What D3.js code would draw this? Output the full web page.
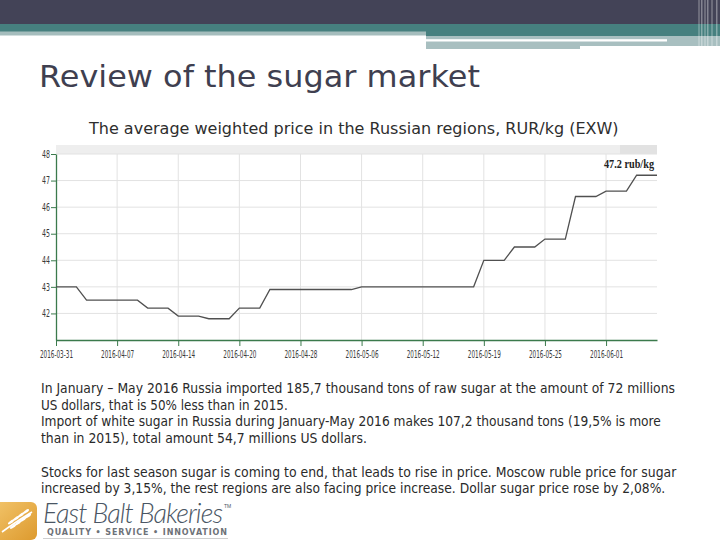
<!DOCTYPE html>
<html><head><meta charset="utf-8">
<script src="https://cdn.jsdelivr.net/npm/d3@7"></script>
<style>html,body{margin:0;padding:0;background:#fff;}svg{display:block}</style>
</head><body>
<svg id="c" width="720" height="540"></svg>
<script>
// ---- data ----
const prices = [
  43.0,43.0,43.0,
  42.5,42.5,42.5,42.5,42.5,42.5,
  42.2,42.2,42.2,
  41.9,41.9,41.9,
  41.8,41.8,41.8,
  42.2,42.2,42.2,
  42.9,42.9,42.9,42.9,42.9,42.9,42.9,42.9,42.9,
  43.0,43.0,43.0,43.0,43.0,43.0,43.0,43.0,43.0,43.0,43.0,43.0,
  44.0,44.0,44.0,
  44.5,44.5,44.5,
  44.8,44.8,44.8,
  46.4,46.4,46.4,
  46.6,46.6,46.6,
  47.2,47.2,47.2
];
const dateLabels = ["2016-03-31","2016-04-07","2016-04-14","2016-04-20","2016-04-28",
                    "2016-05-06","2016-05-12","2016-05-19","2016-05-25","2016-06-01"];
const pointsPerLabel = 6;
const yTicks = [42,43,44,45,46,47,48];
const yDomain = [41,48];
const lastLabel = "47.2 rub/kg";
const title = "Review of the sugar market";
const subtitle = "The average weighted price in the Russian regions, RUR/kg (EXW)";
const noteLines = [
  "In January \u2013 May 2016 Russia imported 185,7 thousand tons of raw sugar at the amount of 72 millions",
  "US dollars, that is 50% less than in 2015.",
  "Import of white sugar in Russia during January-May 2016 makes 107,2 thousand tons (19,5% is more",
  "than in 2015), total amount 54,7 millions US dollars.",
  "",
  "Stocks for last season sugar is coming to end, that leads to rise in price. Moscow ruble price for sugar",
  "increased by 3,15%, the rest regions are also facing price increase. Dollar sugar price rose by 2,08%."
];
const noteWidths = [635, 247, 621, 326, 0, 636, 625];

// ---- drawing ----
const svg = d3.select("#c");
const mainFont = "'DejaVu Sans', Verdana, sans-serif";

// squeeze a text horizontally to a target width (anchored at x0,y0, start)
function fitText(sel, x0, y0, width){
  const w = sel.node().getComputedTextLength();
  const s = w > 0 ? width / w : 1;
  sel.attr("x",0).attr("y",0).attr("transform",`translate(${x0},${y0}) scale(${s},1)`);
}

// header decoration
const hdr = svg.append("g");
hdr.append("rect").attr("x",0).attr("y",0).attr("width",720).attr("height",24).attr("fill","#434357");
hdr.append("rect").attr("x",0).attr("y",24).attr("width",426).attr("height",8).attr("fill","#46807f");
hdr.append("rect").attr("x",0).attr("y",31.5).attr("width",426).attr("height",4).attr("fill","#a5bdbd");
hdr.append("rect").attr("x",426).attr("y",24).attr("width",294).attr("height",12).attr("fill","#46807f");
hdr.append("rect").attr("x",426).attr("y",36).attr("width",294).attr("height",10).attr("fill","#a8bfc0");
hdr.append("rect").attr("x",426).attr("y",46).attr("width",154).attr("height",3).attr("fill","#a8bfc0");
hdr.append("rect").attr("x",426).attr("y",39.2).attr("width",241).attr("height",2.3).attr("fill","#ffffff");
[698,701,704,707,711,716].forEach((xv,i)=>{
  hdr.append("rect").attr("x",xv).attr("y",0).attr("width",i%2?1.5:2).attr("height",46)
     .attr("fill","#ffffff").attr("opacity",i%2?0.35:0.22);
});

// title
fitText(svg.append("text").style("font-family",mainFont).style("font-size","31px")
  .attr("fill","#3f3f50").text(title), 39, 87, 441);

fitText(svg.append("text").style("font-family",mainFont).style("font-size","15.5px")
  .attr("fill","#2e2e2e").text(subtitle), 89, 133.5, 530);

// chart
const x = d3.scaleLinear().domain([0, prices.length-1]).range([56, 657]);
const y = d3.scaleLinear().domain(yDomain).range([340, 154]);
const chart = svg.append("g");

chart.append("rect").attr("x",x.range()[0]).attr("y",145).attr("width",x.range()[1]-x.range()[0]).attr("height",9).attr("fill","#eeeeee");
chart.append("rect").attr("x",620).attr("y",145).attr("width",x.range()[1]-620).attr("height",9).attr("fill","#e2e2e2");

const xTickIdx = dateLabels.map((d,i)=>i*pointsPerLabel);

// grid
chart.append("g").selectAll("line").data(yTicks).join("line")
  .attr("x1",x.range()[0]).attr("x2",x.range()[1])
  .attr("y1",d=>y(d)).attr("y2",d=>y(d))
  .attr("stroke","#e2e2e2").attr("stroke-width",1);
chart.append("g").selectAll("line").data(xTickIdx.slice(1)).join("line")
  .attr("x1",d=>x(d)).attr("x2",d=>x(d))
  .attr("y1",y(yDomain[1])).attr("y2",y(yDomain[0]))
  .attr("stroke","#e2e2e2").attr("stroke-width",1);

// axes
const axisColor = "#3b7a4c";
const ya = chart.append("g").attr("transform",`translate(${x.range()[0]},0)`)
  .call(d3.axisLeft(y).tickValues(yTicks).tickSize(5).tickSizeOuter(0).tickFormat(d3.format("d")));
const xa = chart.append("g").attr("transform",`translate(0,${y(yDomain[0])})`)
  .call(d3.axisBottom(x).tickValues(xTickIdx).tickSize(6).tickSizeOuter(0)
        .tickFormat((d,i)=>dateLabels[i]));
[ya,xa].forEach(a=>{
  a.select(".domain").attr("stroke",axisColor).attr("stroke-width",1.3);
  a.selectAll(".tick line").attr("stroke",axisColor);
  a.selectAll("text").attr("fill","#3a3a3a")
   .style("font-family","'DejaVu Sans Condensed','Liberation Sans Narrow',sans-serif")
   .style("font-size","10px");
});
ya.selectAll("text").attr("x",-6).attr("textLength",8).attr("lengthAdjust","spacingAndGlyphs");
xa.selectAll("text").attr("y",11).attr("textLength",33).attr("lengthAdjust","spacingAndGlyphs");

// line
chart.append("path").datum(prices)
  .attr("d", d3.line().x((d,i)=>x(i)).y(d=>y(d)))
  .attr("fill","none").attr("stroke","#505050").attr("stroke-width",1.3);

chart.append("text").attr("x",x.range()[1]-3).attr("y",168)
  .attr("text-anchor","end").attr("textLength",50).attr("lengthAdjust","spacingAndGlyphs")
  .style("font-family","'Liberation Serif','DejaVu Serif',serif").style("font-weight","bold").style("font-size","12.5px")
  .attr("fill","#222").text(lastLabel);

// notes
const notes = svg.append("g")
  .style("font-family",mainFont).style("font-size","13.5px").attr("fill","#2a2a2a");
noteLines.forEach((t,i)=>{
  if(!t) return;
  fitText(notes.append("text").text(t), 41, 393 + i*16.7, noteWidths[i]);
});

// logo
const logo = svg.append("g");
const grad = svg.append("defs").append("linearGradient").attr("id","lg").attr("x1",0).attr("y1",0).attr("x2",1).attr("y2",1);
grad.append("stop").attr("offset","0%").attr("stop-color","#f2c46a");
grad.append("stop").attr("offset","100%").attr("stop-color","#dd9a2e");
logo.append("rect").attr("x",-6).attr("y",502).attr("width",43).attr("height",38).attr("rx",6).attr("fill","url(#lg)");
logo.append("path").attr("d","M2,532 Q14,523 32,512").attr("stroke","#fff").attr("stroke-width",1.6).attr("fill","none");
[[11,525],[16,521.5],[21,518],[26,514.5]].forEach(([cx,cy])=>{
  logo.append("ellipse").attr("cx",cx).attr("cy",cy-3).attr("rx",3.6).attr("ry",1.3)
    .attr("transform",`rotate(-35,${cx},${cy-3})`).attr("fill","#fff");
  logo.append("ellipse").attr("cx",cx+2).attr("cy",cy+1.5).attr("rx",3.6).attr("ry",1.3)
    .attr("transform",`rotate(-35,${cx+2},${cy+1.5})`).attr("fill","#fff");
});
logo.append("text").attr("x",43).attr("y",523).attr("textLength",180)
  .style("font-family","'Lato','Open Sans',sans-serif").style("font-size","27px").style("font-style","italic").style("font-weight","300")
  .attr("fill","#4a5664").text("East Balt Bakeries");
logo.append("text").attr("x",224).attr("y",508).style("font-family","sans-serif").style("font-size","5px").attr("fill","#4a5664").text("TM");
logo.append("text").attr("x",47).attr("y",535).attr("textLength",180)
  .style("font-family","'DejaVu Sans',sans-serif").style("font-size","8px").style("font-weight","bold")
  .attr("fill","#6e7278").text("QUALITY \u2022 SERVICE \u2022 INNOVATION");
logo.append("rect").attr("x",43).attr("y",538).attr("width",185).attr("height",1).attr("fill","#cfcfcf");
</script>
</body></html>
